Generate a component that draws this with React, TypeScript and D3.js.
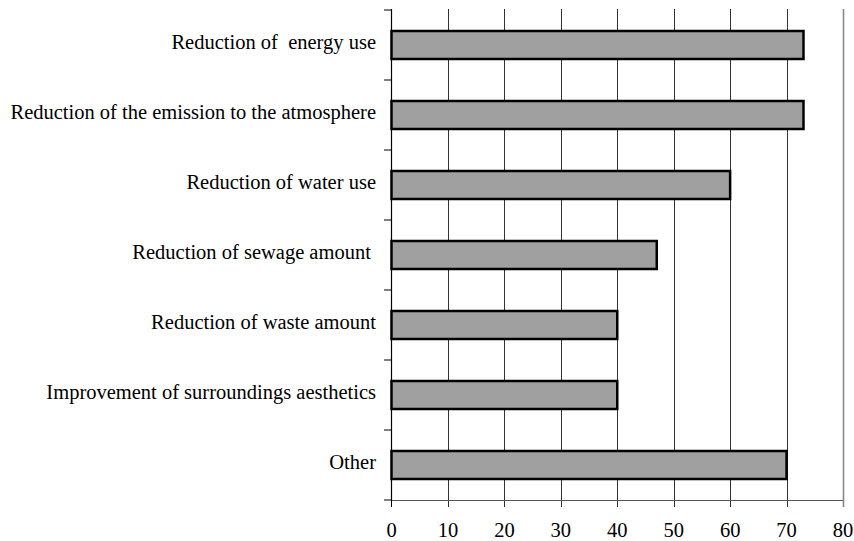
import React from "react";
import * as d3 from "d3";

const categories = [
  "Reduction of  energy use",
  "Reduction of the emission to the atmosphere",
  "Reduction of water use",
  "Reduction of sewage amount ",
  "Reduction of waste amount",
  "Improvement of surroundings aesthetics",
  "Other",
];
const values = [73, 73, 60, 47, 40, 40, 70];
const xTicks = [0, 10, 20, 30, 40, 50, 60, 70, 80];

export default function App() {
  const W = 854, H = 541;
  const x = d3.scaleLinear().domain([0, 80]).range([391.5, 843]);
  const y = d3
    .scaleBand<string>()
    .domain(categories)
    .range([10, 500])
    .paddingInner(0.6)
    .paddingOuter(0.3);
  const step = y.step();
  const bandEdges = d3.range(categories.length + 1).map((i) => 10 + i * step);
  const font = "'Liberation Serif', 'Times New Roman', serif";
  return (
    <svg
      width={W}
      height={H}
      style={{ position: "absolute", left: 0, top: 0, background: "#fff" }}
    >
      {/* gridlines */}
      {xTicks.slice(1).map((t) => (
        <line
          key={"g" + t}
          x1={Math.round(x(t)) + 0.5}
          x2={Math.round(x(t)) + 0.5}
          y1={9}
          y2={507}
          stroke={t === 80 ? "#888" : "#333"}
          strokeWidth={t === 80 ? 1.6 : 1}
        />
      ))}
      {/* x axis */}
      <line x1={x(0)} x2={x(80)} y1={500.5} y2={500.5} stroke="#555" strokeWidth={1.2} />
      <line x1={391.5} x2={391.5} y1={500} y2={507} stroke="#000" strokeWidth={1} />
      {/* y axis */}
      <line x1={391.5} x2={391.5} y1={9} y2={501} stroke="#000" strokeWidth={1.2} />
      {bandEdges.map((e, i) => (
        <line key={"yt" + i} x1={384} x2={391.5} y1={e} y2={e} stroke="#000" strokeWidth={1} />
      ))}
      {/* bars */}
      {categories.map((c, i) => (
        <rect
          key={c}
          x={x(0)}
          y={y(c)!}
          width={x(values[i]) - x(0)}
          height={y.bandwidth()}
          fill="#a0a0a0"
          stroke="#000"
          strokeWidth={2.5}
        />
      ))}
      {/* category labels */}
      {categories.map((c) => (
        <text
          key={"l" + c}
          x={376}
          y={y(c)! + y.bandwidth() / 2}
          dy="0.2em"
          textAnchor="end"
          fontFamily={font}
          fontSize={20.5}
          fill="#000"
          style={{ whiteSpace: "pre" }}
        >
          {c}
        </text>
      ))}
      {/* x tick labels */}
      {xTicks.map((t) => (
        <text
          key={"xt" + t}
          x={x(t)}
          y={537}
          textAnchor="middle"
          fontFamily={font}
          fontSize={20.5}
          fill="#000"
        >
          {t}
        </text>
      ))}
    </svg>
  );
}
